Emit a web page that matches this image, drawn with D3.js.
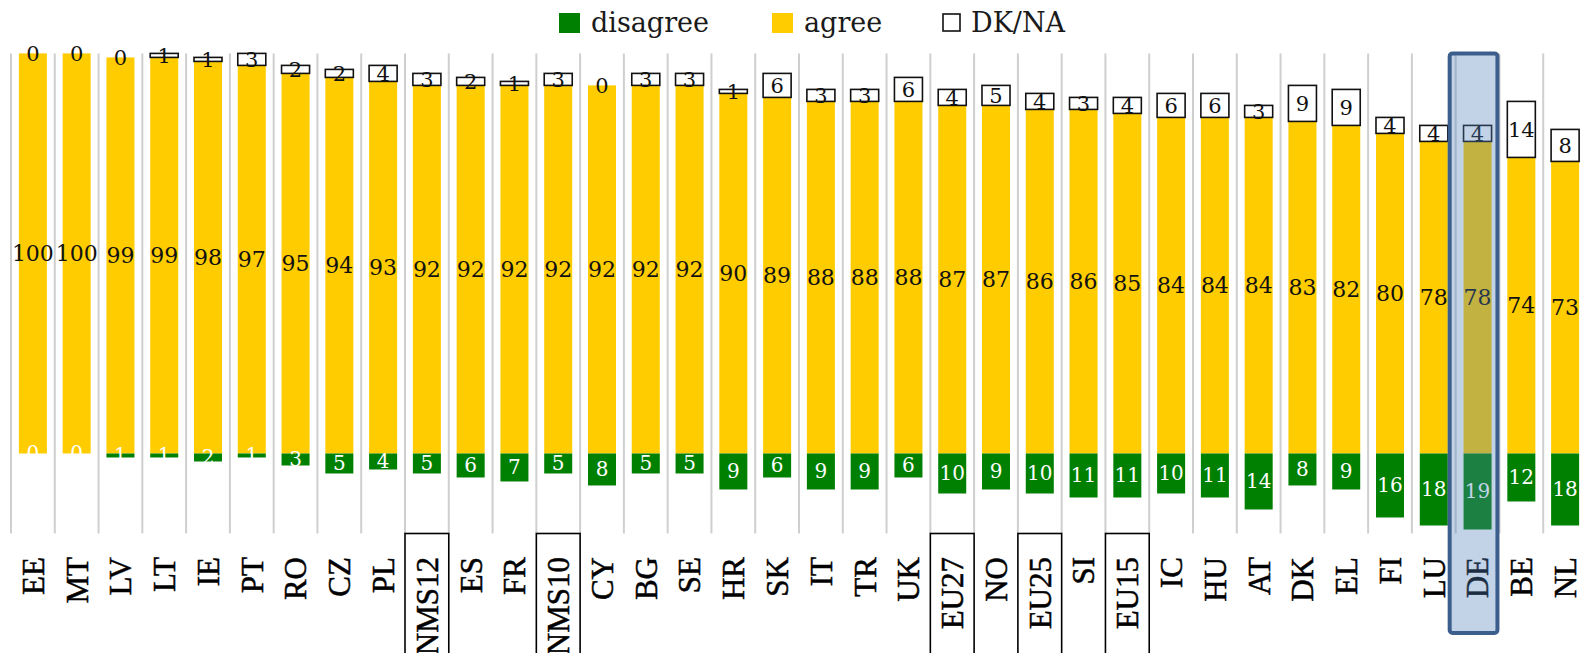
<!DOCTYPE html>
<html>
<head>
<meta charset="utf-8">
<script src="https://cdn.jsdelivr.net/npm/d3@7"></script>
<style>
  body { margin: 0; background: #fff; }
  svg { display: block; }
</style>
</head>
<body>
<svg width="1587" height="653"></svg>
<script>
// categories, left to right
const countries = ["EE","MT","LV","LT","IE","PT","RO","CZ","PL","NMS12","ES","FR","NMS10","CY","BG","SE","HR","SK","IT","TR","UK","EU27","NO","EU25","SI","EU15","IC","HU","AT","DK","EL","FI","LU","DE","BE","NL"];
const agree    = [100,100,99,99,98,97,95,94,93,92,92,92,92,92,92,92,90,89,88,88,88,87,87,86,86,85,84,84,84,83,82,80,78,78,74,73];
const dkna     = [0,0,0,1,1,3,2,2,4,3,2,1,3,0,3,3,1,6,3,3,6,4,5,4,3,4,6,6,3,9,9,4,4,4,14,8];
const disagree = [0,0,1,1,2,1,3,5,4,5,6,7,5,8,5,5,9,6,9,9,6,10,9,10,11,11,10,11,14,8,9,16,18,19,12,18];
const aggregates = ["NMS12","NMS10","EU27","EU25","EU15"];
const highlight = "DE";
const legendItems = ["disagree", "agree", "DK/NA"];

const GREEN = "#008000", YELLOW = "#ffcc00";

let svg = d3.select("svg");

let x = d3.scaleBand().domain(countries).range([11, 1587]).padding(0);
let y = d3.scaleLinear().domain([-20, 100]).range([533.5, 53.4]);
let barW = x.bandwidth() * 0.64;
let barX = c => x(c) + (x.bandwidth() - barW) / 2;
let cx = c => x(c) + x.bandwidth() / 2;

let data = countries.map((c, i) => ({ c: c, agree: agree[i], dk: dkna[i], dis: disagree[i] }));

// gridlines at category boundaries
svg.append("g").selectAll("line")
    .data(countries)
    .join("line")
    .attr("x1", d => x(d)).attr("x2", d => x(d))
    .attr("y1", y(100)).attr("y2", y(-20))
    .attr("stroke", "#cfcfcf")
    .attr("stroke-width", 2);

let bars = svg.append("g");

// agree (up from 0)
bars.selectAll("rect.agree")
    .data(data)
    .join("rect")
    .attr("class", "agree")
    .attr("x", d => barX(d.c))
    .attr("width", barW)
    .attr("y", d => y(d.agree))
    .attr("height", d => y(0) - y(d.agree))
    .attr("fill", YELLOW);

// disagree (down from 0)
bars.selectAll("rect.dis")
    .data(data)
    .join("rect")
    .attr("class", "dis")
    .attr("x", d => barX(d.c))
    .attr("width", barW)
    .attr("y", y(0))
    .attr("height", d => y(-d.dis) - y(0))
    .attr("fill", GREEN);

// DK/NA on top of agree
bars.selectAll("rect.dk")
    .data(data.filter(d => d.dk > 0))
    .join("rect")
    .attr("class", "dk")
    .attr("x", d => barX(d.c))
    .attr("width", barW)
    .attr("y", d => y(d.agree + d.dk))
    .attr("height", d => y(d.agree) - y(d.agree + d.dk))
    .attr("fill", "#fff")
    .attr("stroke", "#111")
    .attr("stroke-width", 1.6);

let labels = svg.append("g")
    .attr("font-family", "'DejaVu Serif', serif")
    .attr("text-anchor", "middle");

labels.selectAll("text.agree")
    .data(data)
    .join("text")
    .attr("x", d => cx(d.c))
    .attr("y", d => y(d.agree / 2))
    .attr("dy", "0.35em")
    .attr("font-size", 22)
    .attr("fill", "#111")
    .text(d => d.agree);

labels.selectAll("text.dk")
    .data(data)
    .join("text")
    .attr("x", d => cx(d.c))
    .attr("y", d => y(d.agree + d.dk / 2))
    .attr("dy", "0.35em")
    .attr("font-size", 21)
    .attr("fill", "#111")
    .text(d => d.dk);

labels.selectAll("text.dis")
    .data(data)
    .join("text")
    .attr("x", d => cx(d.c))
    .attr("y", d => y(-d.dis / 2))
    .attr("dy", "0.35em")
    .attr("font-size", 20)
    .attr("fill", "#fff")
    .text(d => d.dis);

// category axis, rotated labels
let axis = svg.append("g")
    .attr("transform", "translate(0," + 557 + ")")
    .call(d3.axisBottom(x).tickSize(0).tickPadding(0));
axis.select(".domain").remove();
axis.selectAll("text")
    .attr("font-family", "'Liberation Serif', 'Times New Roman', serif")
    .attr("font-size", 31)
    .attr("fill", "#000")
    .attr("stroke", "#000")
    .attr("stroke-width", 0.5)
    .attr("text-anchor", "end")
    .attr("transform", "rotate(-90)")
    .attr("x", 0)
    .attr("y", 0)
    .attr("dy", "0.35em");

// boxes around aggregate labels
svg.append("g").selectAll("rect")
    .data(aggregates)
    .join("rect")
    .attr("x", d => x(d))
    .attr("y", y(-20))
    .attr("width", x.bandwidth())
    .attr("height", 140)
    .attr("fill", "none")
    .attr("stroke", "#000")
    .attr("stroke-width", 1.6);

// highlight box for DE
svg.append("rect")
    .attr("x", x(highlight) - 6)
    .attr("y", y(100))
    .attr("width", x.bandwidth() + 4)
    .attr("height", 633 - y(100))
    .attr("rx", 3)
    .attr("fill", "#4f81bd")
    .attr("fill-opacity", 0.35)
    .attr("stroke", "#3b5e8c")
    .attr("stroke-width", 4);

// legend
let legend = svg.append("g")
    .attr("font-family", "'DejaVu Serif', serif")
    .attr("font-size", 27);
let legendX = [559, 772, 942];
let legendFill = [GREEN, YELLOW, "#fff"];
legendItems.forEach((name, i) => {
    let g = legend.append("g").attr("transform", "translate(" + legendX[i] + ",0)");
    g.append("rect")
        .attr("x", i == 2 ? 1 : 0).attr("y", i == 2 ? 14 : 13)
        .attr("width", i == 2 ? 17 : 21).attr("height", i == 2 ? 17 : 20)
        .attr("fill", legendFill[i])
        .attr("stroke", i == 2 ? "#111" : "none")
        .attr("stroke-width", 1.6);
    g.append("text")
        .attr("x", i == 2 ? 29 : 32)
        .attr("y", 32)
        .attr("fill", "#1a1a1a")
        .text(name);
});
</script>
</body>
</html>
